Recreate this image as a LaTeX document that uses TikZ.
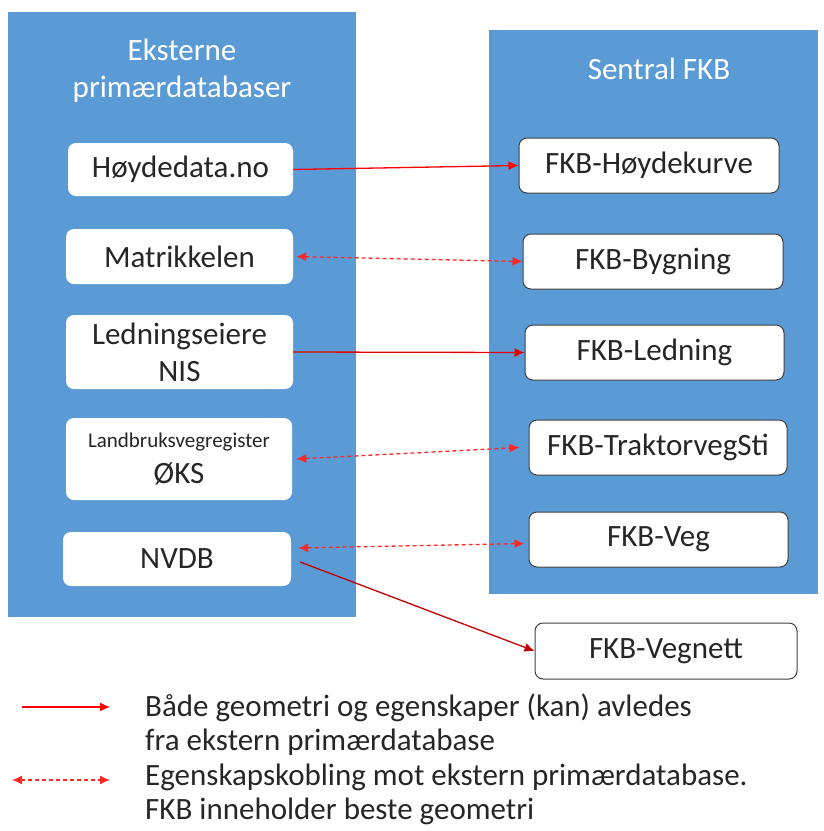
\documentclass[tikz,border=0pt]{standalone}
\usepackage{fontspec}
\setmainfont{Carlito}
\usetikzlibrary{arrows.meta}
\definecolor{panelblue}{HTML}{5B9BD5}
\definecolor{txtgrey}{HTML}{262626}
\definecolor{darkred}{HTML}{C00000}

\begin{document}
\begin{tikzpicture}[x=1pt,y=-1pt,
    panel/.style={fill=panelblue,draw=none},
    srcbox/.style={fill=white,draw=none,rounded corners=8pt,text=txtgrey,
                   align=center,inner sep=0pt,font=\fontsize{31}{37}\selectfont},
    fkbbox/.style={srcbox,draw=black!75,line width=1pt},
    solidarr/.style={red,line width=1.3pt,-{Latex[length=10pt,width=9pt]}},
    linkarr/.style={red!85,line width=1.3pt,dash pattern=on 4pt off 3pt,
                    {Latex[length=10pt,width=9pt]}-{Latex[length=10pt,width=9pt]}},
    legtext/.style={anchor=west,text=txtgrey,inner sep=0pt,font=\fontsize{31}{37}\selectfont}]

  \useasboundingbox (0,0) rectangle (823,831);

% the two panels
  \fill[panel] (8,12) rectangle (356,617);
  \fill[panel] (489,30) rectangle (818,594);
  \node[white,align=center,font=\fontsize{31}{37}\selectfont] (ekstitle) at (182,71)
       {Eksterne\\primærdatabaser};
  \node[white,font=\fontsize{31}{37}\selectfont] (fkbtitle) at (659,69) {Sentral FKB};

% external databases
  \node[srcbox,minimum width=225pt,minimum height=53pt] (hoyde) at (180.5,169.5) {Høydedata.no};
  \node[srcbox,minimum width=227pt,minimum height=55pt] (matr) at (179.5,256.5) {Matrikkelen};
  \node[srcbox,minimum width=227pt,minimum height=74pt] (ledn) at (179.5,352) {Ledningseiere\\NIS};
  \node[srcbox,minimum width=226pt,minimum height=82pt,font=\fontsize{31}{36}\selectfont] (oks) at (179,459)
       {{\fontsize{21}{24}\selectfont Landbruksvegregister}\\ØKS};
  \node[srcbox,minimum width=228pt,minimum height=54pt] (nvdb) at (177,559) {NVDB};

% FKB datasets
  \node[fkbbox,minimum width=260pt,minimum height=55pt] (fkbhoyde) at (649,165.5) {FKB-Høydekurve};
  \node[fkbbox,minimum width=260pt,minimum height=55pt] (fkbbygn) at (653,261.5) {FKB-Bygning};
  \node[fkbbox,minimum width=259pt,minimum height=55pt] (fkbledn) at (654.5,352.5) {FKB-Ledning};
  \node[fkbbox,minimum width=258pt,minimum height=55pt] (fkbtrakt) at (658,447.5) {FKB-TraktorvegSti};
  \node[fkbbox,minimum width=259pt,minimum height=55pt] (fkbveg) at (658.5,539.5) {FKB-Veg};
  \node[fkbbox,minimum width=262pt,minimum height=56pt] (fkbvegnett) at (666,651) {FKB-Vegnett};

% connections
  \draw[solidarr] (hoyde.east) -- (fkbhoyde.west);
  \draw[linkarr] ([xshift=3pt]matr.east) -- (fkbbygn.west);
  \draw[solidarr,red!90!black] (ledn.east) -- (fkbledn.west);
  \draw[linkarr] ([xshift=4pt]oks.east) -- ([xshift=-9pt]fkbtrakt.west);
  \draw[linkarr] ([xshift=7pt,yshift=11pt]nvdb.east) -- ([xshift=-4pt,yshift=-4pt]fkbveg.west);
  \draw[solidarr,darkred] ([xshift=9pt,yshift=-3pt]nvdb.east) -- (fkbvegnett.west);

% legend
  \coordinate (legA1) at (22,707);
  \coordinate (legA2) at (110,707);
  \coordinate (legB1) at (12,780);
  \coordinate (legB2) at (110,780);
  \draw[solidarr] (legA1) -- (legA2);
  \draw[linkarr] (legB1) -- (legB2);
  \node[legtext] (legtxta) at (145,708) {Både geometri og egenskaper (kan) avledes};
  \node[legtext] (legtxtb) at (145,742) {fra ekstern primærdatabase};
  \node[legtext] (legtxtc) at (145,777) {Egenskapskobling mot ekstern primærdatabase.};
  \node[legtext] (legtxtd) at (145,811) {FKB inneholder beste geometri};

\end{tikzpicture}
\end{document}
